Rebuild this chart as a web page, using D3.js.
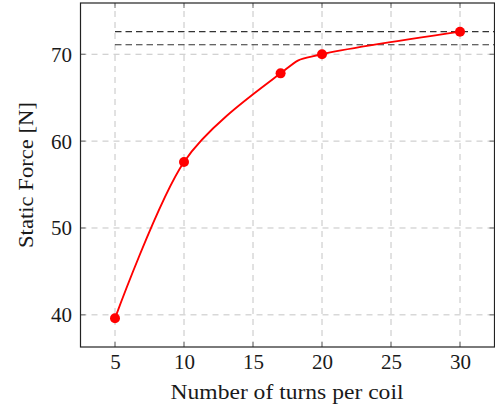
<!DOCTYPE html>
<html>
<head>
<meta charset="utf-8">
<script src="https://cdn.jsdelivr.net/npm/d3@7"></script>
<style>
  html, body { margin: 0; padding: 0; background: #fff; }
</style>
</head>
<body>
<svg id="chart" width="495" height="409"></svg>
<script>
// Measured static force for each coil winding count
const turns = [5, 10, 17, 20, 30];
const force = [39.6, 57.6, 67.8, 70.0, 72.6];
// Horizontal reference levels
const refLevels = [72.6, 71.1];
// Axis ticks
const xTicks = [5, 10, 15, 20, 25, 30];
const yTicks = [40, 50, 60, 70];

const xLabel = "Number of turns per coil";
const yLabel = "Static Force [N]";

const serif = "'Liberation Serif', 'DejaVu Serif', serif";
const textColor = "#1a1a1a";

const svg = d3.select("#chart");
const margin = { left: 80.5, right: 0.5, top: 3, bottom: 62 };
const W = 495, H = 409;

const x = d3.scaleLinear().domain([2.5, 32.5]).range([margin.left, W - margin.right]);
const y = d3.scaleLinear().domain([36.3, 75.9]).range([H - margin.bottom, margin.top]);

const gridColor = "#c4c4c4";
const tickColor = "#6a6a6a";
const tickLen = 5;

// Dashed grid
const grid = svg.append("g");
grid.selectAll("line.vx").data(xTicks).join("line")
  .attr("x1", d => x(d)).attr("x2", d => x(d))
  .attr("y1", y.range()[0]).attr("y2", y.range()[1])
  .attr("stroke", gridColor).attr("stroke-width", 1).attr("stroke-dasharray", "6,5");
grid.selectAll("line.hy").data(yTicks).join("line")
  .attr("y1", d => y(d)).attr("y2", d => y(d))
  .attr("x1", x.range()[0]).attr("x2", x.range()[1])
  .attr("stroke", gridColor).attr("stroke-width", 1).attr("stroke-dasharray", "6,5");

// Reference levels
svg.append("g").selectAll("line").data(refLevels).join("line")
  .attr("x1", x(5)).attr("x2", x.range()[1])
  .attr("y1", d => y(d)).attr("y2", d => y(d))
  .attr("stroke", "#333").attr("stroke-width", 1.1).attr("stroke-dasharray", "6.5,4");

// Axes with labels only; tick marks drawn inward below
const fontSize = 21;
const xAxisB = d3.axisBottom(x).tickValues(xTicks).tickSize(0).tickPadding(7);
const gB = svg.append("g").attr("transform", `translate(0,${y.range()[0]})`).call(xAxisB);
gB.select(".domain").remove();
gB.selectAll("text").style("font-family", serif).style("font-size", fontSize + "px")
  .style("fill", textColor).attr("dy", "0.71em");

const yAxisL = d3.axisLeft(y).tickValues(yTicks).tickSize(0).tickPadding(8.5);
const gL = svg.append("g").attr("transform", `translate(${x.range()[0]},0)`).call(yAxisL);
gL.select(".domain").remove();
gL.selectAll("text").style("font-family", serif).style("font-size", fontSize + "px")
  .style("fill", textColor).attr("dy", "0.33em");

const ticks = svg.append("g").attr("stroke", tickColor).attr("stroke-width", 1);
xTicks.forEach(t => {
  ticks.append("line").attr("x1", x(t)).attr("x2", x(t))
    .attr("y1", y.range()[0]).attr("y2", y.range()[0] - tickLen);
  ticks.append("line").attr("x1", x(t)).attr("x2", x(t))
    .attr("y1", y.range()[1]).attr("y2", y.range()[1] + tickLen);
});
yTicks.forEach(t => {
  ticks.append("line").attr("y1", y(t)).attr("y2", y(t))
    .attr("x1", x.range()[0]).attr("x2", x.range()[0] + tickLen);
  ticks.append("line").attr("y1", y(t)).attr("y2", y(t))
    .attr("x1", x.range()[1]).attr("x2", x.range()[1] - tickLen);
});

// Frame
svg.append("rect")
  .attr("x", x.range()[0]).attr("y", y.range()[1])
  .attr("width", x.range()[1] - x.range()[0])
  .attr("height", y.range()[0] - y.range()[1])
  .attr("fill", "none").attr("stroke", "#222").attr("stroke-width", 1.2);

// Smooth data curve
const pts = turns.map((t, i) => [t, force[i]]);
const line = d3.line().x(d => x(d[0])).y(d => y(d[1])).curve(d3.curveCardinal.tension(0.08));
svg.append("path").attr("d", line(pts))
  .attr("fill", "none").attr("stroke", "#ff0000").attr("stroke-width", 1.9);

svg.append("g").selectAll("circle").data(pts).join("circle")
  .attr("cx", d => x(d[0])).attr("cy", d => y(d[1])).attr("r", 5)
  .attr("fill", "#ff0000");

// Axis titles
svg.append("text").attr("x", (x.range()[0] + x.range()[1]) / 2 - 0.5).attr("y", 398.5)
  .attr("text-anchor", "middle")
  .attr("textLength", 233).attr("lengthAdjust", "spacingAndGlyphs")
  .style("font-family", serif).style("font-size", "21.5px").style("fill", textColor)
  .text(xLabel);
svg.append("text")
  .attr("transform", `translate(32.5,${(y.range()[0] + y.range()[1]) / 2}) rotate(-90)`)
  .attr("text-anchor", "middle")
  .attr("textLength", 146).attr("lengthAdjust", "spacingAndGlyphs")
  .style("font-family", serif).style("font-size", "21.5px").style("fill", textColor)
  .text(yLabel);
</script>
</body>
</html>
